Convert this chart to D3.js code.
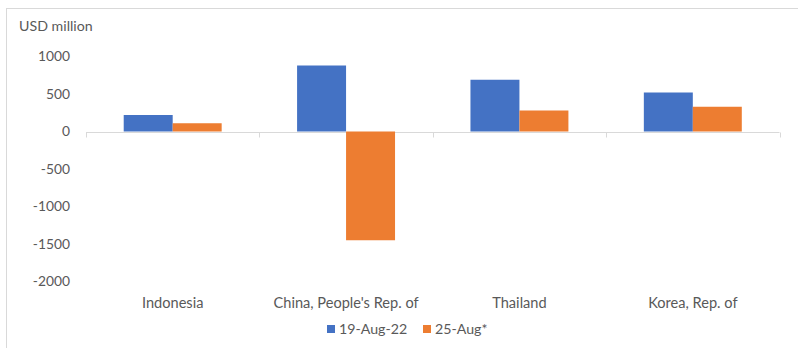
<!DOCTYPE html>
<html>
<head>
<meta charset="utf-8">
<script src="https://cdn.jsdelivr.net/npm/d3@7"></script>
<style>
  html, body { margin: 0; padding: 0; background: #fff; }
  svg { display: block; }
  text { font-family: Lato, "Open Sans", sans-serif; fill: #595959; }
</style>
</head>
<body>
<svg id="chart" width="798" height="348"></svg>
<script>
const categories = ["Indonesia", "China, People's Rep. of", "Thailand", "Korea, Rep. of"];
const seriesNames = ["19-Aug-22", "25-Aug*"];
const series1 = [220, 880, 690, 520];
const series2 = [110, -1450, 280, 330];
const yTicks = [1000, 500, 0, -500, -1000, -1500, -2000];
const colors = ["#4472C4", "#ED7D31"];

const svg = d3.select("#chart");
const W = 798, H = 348;

// chart border
svg.append("rect").attr("x", 6.5).attr("y", 8.5).attr("width", W + 10).attr("height", H + 10)
  .attr("fill", "none").attr("stroke", "#d9d9d9").attr("stroke-width", 1);

const x0 = d3.scaleBand().domain(categories).range([86, 779.5]).paddingInner(0).paddingOuter(0);
const y = d3.scaleLinear().domain([-2000, 1000]).range([281.5, 56.5]);

const x1 = d3.scaleBand().domain(seriesNames).range([0, x0.bandwidth()]).paddingOuter(0.77).paddingInner(0);

// y tick labels
svg.append("g").selectAll("text").data(yTicks).enter().append("text")
  .attr("x", 70).attr("y", d => y(d)).attr("dy", "0.35em")
  .attr("text-anchor", "end").attr("font-size", 13.8).text(d => d);

// axis title
svg.append("text").attr("x", 19).attr("y", 26).attr("dy", "0.35em")
  .attr("font-size", 14.2).text("USD million");

// bars
const data = categories.map((c, i) => ({ c, vals: [series1[i], series2[i]] }));
const groups = svg.append("g").selectAll("g").data(data).enter().append("g")
  .attr("transform", d => `translate(${x0(d.c)},0)`);

// x axis line and ticks (drawn beneath bars)
const zeroY = Math.round(y(0)) + 0.5;
svg.insert("line", "g").attr("x1", x0.range()[0]).attr("x2", x0.range()[1])
  .attr("y1", zeroY).attr("y2", zeroY).attr("stroke", "#d9d9d9").attr("stroke-width", 1);

groups.selectAll("rect").data(d => d.vals.map((v, j) => ({ v, s: seriesNames[j], j })))
  .enter().append("rect")
  .attr("x", d => x1(d.s))
  .attr("width", x1.bandwidth())
  .attr("y", d => Math.min(y(d.v), y(0)))
  .attr("height", d => Math.abs(y(d.v) - y(0)))
  .attr("fill", d => colors[d.j]);

const boundaries = categories.map(c => x0(c)).concat([x0.range()[1]]);
svg.append("g").selectAll("line").data(boundaries).enter().append("line")
  .attr("x1", d => Math.round(d) + 0.5).attr("x2", d => Math.round(d) + 0.5)
  .attr("y1", zeroY).attr("y2", zeroY + 5).attr("stroke", "#d9d9d9");

// category labels
svg.append("g").selectAll("text").data(categories).enter().append("text")
  .attr("x", d => x0(d) + x0.bandwidth() / 2).attr("y", 303).attr("dy", "0.35em")
  .attr("text-anchor", "middle").attr("font-size", 14.6).text(d => d);

// legend
const legendX = [327, 423];
const lg = svg.append("g").selectAll("g").data(seriesNames).enter().append("g")
  .attr("transform", (d, i) => `translate(${legendX[i]},329)`);
lg.append("rect").attr("x", 0).attr("y", -4).attr("width", 8).attr("height", 8)
  .attr("fill", (d, i) => colors[i]);
lg.append("text").attr("x", 12).attr("y", 0).attr("dy", "0.35em").attr("font-size", 14.2).text(d => d);
</script>
</body>
</html>
